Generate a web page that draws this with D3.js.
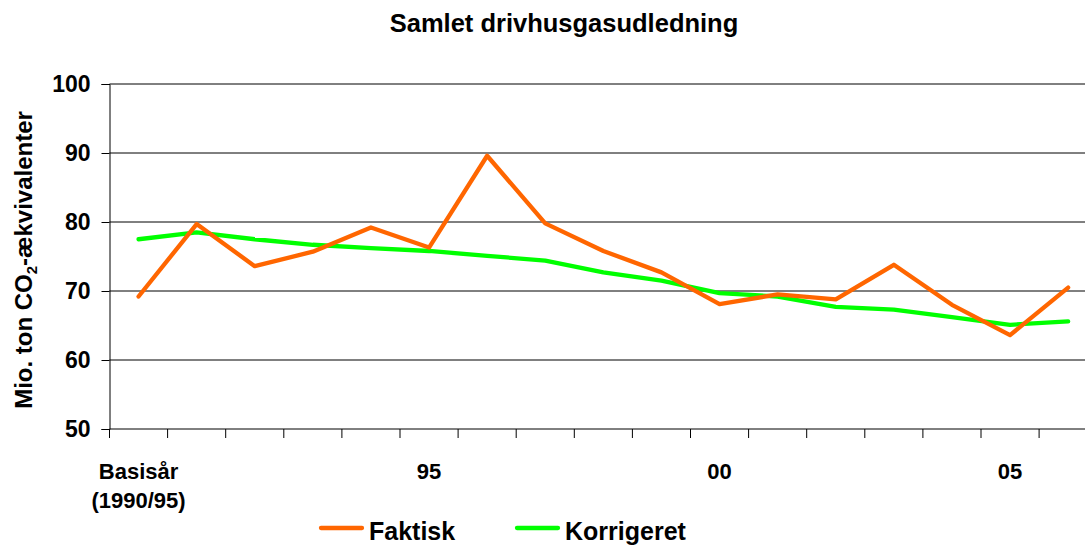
<!DOCTYPE html>
<html>
<head>
<meta charset="utf-8">
<script src="https://cdn.jsdelivr.net/npm/d3@7"></script>
<style>
  body { margin: 0; background: #fff; }
  svg { display: block; font-family: "Liberation Sans", Arial, sans-serif; font-weight: bold; }
</style>
</head>
<body>
<div id="chart"></div>
<script>
const categories = ['base', '1991', '1992', '1993', '1994', '1995', '1996', '1997', '1998', '1999',
                    '2000', '2001', '2002', '2003', '2004', '2005', '2006'];
const tickLabels = [['Basisår', '(1990/95)'], [], [], [], [], ['95'], [], [], [], [],
                    ['00'], [], [], [], [], ['05'], []];
const faktisk = [69.2, 79.7, 73.6, 75.7, 79.2, 76.3, 89.6, 79.8, 75.8, 72.7,
                 68.1, 69.5, 68.8, 73.8, 68.0, 63.6, 70.5];
const korrigeret = [77.5, 78.5, 77.5, 76.7, 76.2, 75.8, 75.1, 74.4, 72.7, 71.5,
                    69.7, 69.2, 67.7, 67.3, 66.2, 65.1, 65.6];
const yTicks = [50, 60, 70, 80, 90, 100];

const margin = { top: 84, left: 109.5 };
const width = 17 * 58.1;
const height = 345;

const svg = d3.select('#chart')
              .append('svg')
              .attr('width', 1085)
              .attr('height', 545);

svg.append('text')
   .attr('x', 564)
   .attr('y', 32)
   .attr('text-anchor', 'middle')
   .style('font-size', '25.5px')
   .text('Samlet drivhusgasudledning');

const g = svg.append('g')
             .attr('transform', `translate(${margin.left}, ${margin.top})`);

const xScale = d3.scaleBand()
                 .domain(categories)
                 .range([0, width])
                 .padding(0);

const yScale = d3.scaleLinear()
                 .domain([50, 100])
                 .range([height, 0]);

// gridlines
g.selectAll('.grid')
 .data(yTicks.slice(1))
 .enter()
 .append('line')
 .attr('x1', 0)
 .attr('x2', width)
 .attr('y1', d => yScale(d))
 .attr('y2', d => yScale(d))
 .attr('stroke', '#000')
 .attr('stroke-width', 1);

const yAxis = d3.axisLeft(yScale)
                .tickValues(yTicks)
                .tickSize(8)
                .tickPadding(11);

const yG = g.append('g').call(yAxis);
yG.select('.domain').attr('stroke', '#000');
yG.selectAll('text')
  .attr('fill', '#000')
  .style('font-size', '23px')
  .style('font-family', '"Liberation Sans", Arial, sans-serif')
  .style('font-weight', 'bold');

// x axis with ticks on category boundaries
g.append('line')
 .attr('x1', 0)
 .attr('x2', width)
 .attr('y1', height)
 .attr('y2', height)
 .attr('stroke', '#000');

g.selectAll('.xtick')
 .data(categories)
 .enter()
 .append('line')
 .attr('x1', d => xScale(d))
 .attr('x2', d => xScale(d))
 .attr('y1', height)
 .attr('y2', height + 9)
 .attr('stroke', '#000');

const xLab = g.selectAll('.xlabel')
              .data(categories)
              .enter()
              .append('text')
              .attr('text-anchor', 'middle')
              .attr('x', d => xScale(d) + xScale.bandwidth() / 2)
              .attr('y', height + 50)
              .style('font-size', '22px');

xLab.selectAll('tspan')
    .data((d, i) => tickLabels[i])
    .enter()
    .append('tspan')
    .attr('x', function () { return this.parentNode.getAttribute('x'); })
    .attr('dy', (d, i) => i === 0 ? 0 : 29)
    .text(d => d);

// lines
const line = d3.line()
               .x((d, i) => xScale(categories[i]) + xScale.bandwidth() / 2)
               .y(d => yScale(d));

g.append('path')
 .datum(korrigeret)
 .attr('fill', 'none')
 .attr('stroke', '#00ff00')
 .attr('stroke-width', 4.3)
 .attr('stroke-linejoin', 'round')
 .attr('stroke-linecap', 'round')
 .attr('d', line);

g.append('path')
 .datum(faktisk)
 .attr('fill', 'none')
 .attr('stroke', '#ff6600')
 .attr('stroke-width', 4.3)
 .attr('stroke-linejoin', 'round')
 .attr('stroke-linecap', 'round')
 .attr('d', line);

// y axis title
svg.append('text')
   .attr('transform', 'translate(32, 260) rotate(-90)')
   .attr('text-anchor', 'middle')
   .style('font-size', '24px')
   .html('Mio. ton CO<tspan dy="5" style="font-size:15px">2</tspan><tspan dy="-5">-ækvivalenter</tspan>');

// legend
const legend = [
  { name: 'Faktisk', color: '#ff6600', x: 321 },
  { name: 'Korrigeret', color: '#00ff00', x: 517 }
];

const lg = svg.selectAll('.legend')
              .data(legend)
              .enter()
              .append('g')
              .attr('transform', d => `translate(${d.x}, 528)`);

lg.append('line')
  .attr('x1', 0)
  .attr('x2', 41)
  .attr('stroke', d => d.color)
  .attr('stroke-width', 4.3)
  .attr('stroke-linecap', 'round');

lg.append('text')
  .attr('x', 48)
  .attr('y', 12)
  .style('font-size', '25px')
  .text(d => d.name);
</script>
</body>
</html>
